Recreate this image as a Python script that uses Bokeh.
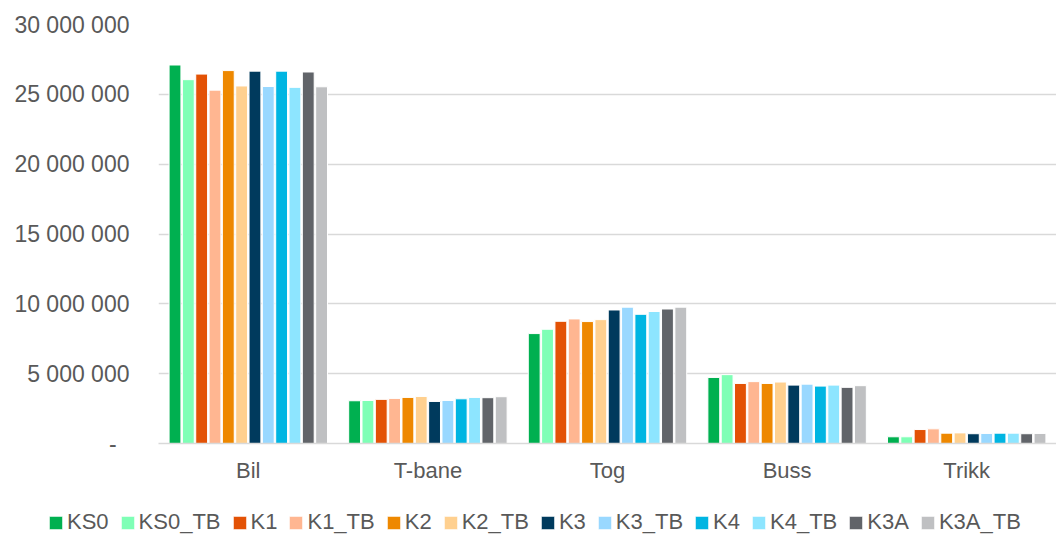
from bokeh.plotting import figure
from bokeh.layouts import column
from bokeh.models import ColumnDataSource, Range1d, FactorRange, Legend, LegendItem, CustomJSTickFormatter
from bokeh.transform import dodge
from bokeh.embed import file_html
from bokeh.resources import INLINE

categories = ["Bil", "T-bane", "Tog", "Buss", "Trikk"]
series = ["KS0", "KS0_TB", "K1", "K1_TB", "K2", "K2_TB", "K3", "K3_TB", "K4", "K4_TB", "K3A", "K3A_TB"]
colors = ["#00B050", "#7FFFB6", "#E35205", "#FFB691", "#EE8800", "#FFD08F",
          "#003A5D", "#99D8FF", "#00B5E2", "#8DE5FF", "#616469", "#BFC0C2"]

KS0 = [27.1e6, 3.06e6, 7.87e6, 4.73e6, 0.48e6]
KS0_TB = [26.05e6, 3.08e6, 8.18e6, 4.93e6, 0.48e6]
K1 = [26.45e6, 3.16e6, 8.75e6, 4.30e6, 1.00e6]
K1_TB = [25.3e6, 3.23e6, 8.92e6, 4.43e6, 1.05e6]
K2 = [26.7e6, 3.30e6, 8.73e6, 4.30e6, 0.74e6]
K2_TB = [25.6e6, 3.37e6, 8.87e6, 4.40e6, 0.76e6]
K3 = [26.66e6, 3.01e6, 9.56e6, 4.18e6, 0.70e6]
K3_TB = [25.56e6, 3.08e6, 9.76e6, 4.25e6, 0.72e6]
K4 = [26.66e6, 3.20e6, 9.25e6, 4.11e6, 0.74e6]
K4_TB = [25.5e6, 3.30e6, 9.45e6, 4.18e6, 0.74e6]
K3A = [26.6e6, 3.28e6, 9.63e6, 4.02e6, 0.70e6]
K3A_TB = [25.54e6, 3.35e6, 9.76e6, 4.14e6, 0.72e6]

values = [KS0, KS0_TB, K1, K1_TB, K2, K2_TB, K3, K3_TB, K4, K4_TB, K3A, K3A_TB]

data = {"cat": categories}
for name, vals in zip(series, values):
    data[name] = vals
source = ColumnDataSource(data)

FONT = "Liberation Sans"
TXT = "#595959"

p = figure(width=1056, height=485, x_range=FactorRange(*categories, range_padding=0),
           y_range=Range1d(0, 30e6), output_backend="svg", toolbar_location=None,
           min_border_left=158, min_border_right=0, min_border_top=24, min_border_bottom=42)
p.outline_line_color = None
p.frame_align = False

slot = 0.0742
for i, (name, col) in enumerate(zip(series, colors)):
    p.vbar(x=dodge("cat", (i - 5.5) * slot, range=p.x_range), top=name, width=0.066,
           source=source, fill_color=col, line_color="white", line_width=1)

p.xgrid.grid_line_color = None
p.ygrid.grid_line_color = "#D9D9D9"
p.ygrid.grid_line_width = 1.3
p.yaxis.ticker = [0, 5e6, 10e6, 15e6, 20e6, 25e6, 30e6]
p.yaxis.formatter = CustomJSTickFormatter(code="""
if (tick == 0) { return "-\u00a0\u00a0"; }
var s = Math.round(tick).toString();
return s.replace(/\\B(?=(\\d{3})+(?!\\d))/g, " ");
""")
p.yaxis.axis_line_color = None
p.yaxis.major_tick_line_color = None
p.yaxis.minor_tick_line_color = None
p.yaxis.major_tick_out = 0
p.yaxis.major_label_standoff = 29
p.yaxis.major_label_text_font = FONT
p.yaxis.major_label_text_font_size = "23px"
p.yaxis.major_label_text_color = TXT

p.xaxis.axis_line_color = "#D9D9D9"
p.xaxis.axis_line_width = 1.5
p.xaxis.major_tick_line_color = None
p.xaxis.major_tick_out = 0
p.xaxis.major_label_standoff = 14
p.xaxis.major_label_text_font = FONT
p.xaxis.major_label_text_font_size = "22px"
p.xaxis.major_label_text_color = TXT

# legend strip (separate figure whose frame covers the whole strip)
pl = figure(width=1056, height=49, x_range=Range1d(0, 1), y_range=Range1d(0, 1),
            output_backend="svg", toolbar_location=None,
            min_border_left=0, min_border_right=0, min_border_top=0, min_border_bottom=0)
pl.axis.visible = False
pl.grid.visible = False
pl.outline_line_color = None
pl.frame_align = False
items = []
for name, col in zip(series, colors):
    r = pl.vbar(x=[-10], top=[0], bottom=[0], width=0.01, fill_color=col, line_color="white", line_width=1)
    items.append(LegendItem(label=name, renderers=[r]))

legend = Legend(items=items, orientation="horizontal", location=(47, -1))
legend.padding = 0
legend.margin = 0
legend.spacing = 10
legend.label_standoff = 3
legend.glyph_width = 17
legend.glyph_height = 17
legend.label_height = 22
legend.label_text_font = FONT
legend.label_text_font_size = "22px"
legend.label_text_color = TXT
legend.border_line_color = None
legend.background_fill_alpha = 0
pl.add_layout(legend, "center")

layout = column(p, pl, spacing=0)
open("out.html", "w").write(file_html(layout, INLINE))
